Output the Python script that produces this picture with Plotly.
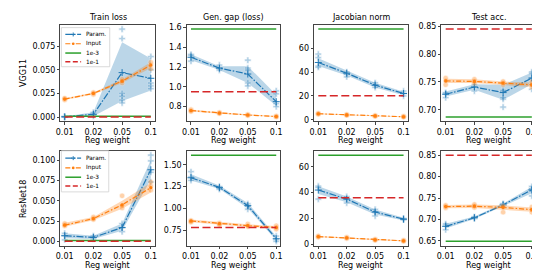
import plotly.graph_objects as go

# ---------------- data ----------------
REG = ["0.01", "0.02", "0.05", "0.1"]
METRICS = ["Train loss", "Gen. gap (loss)", "Jacobian norm", "Test acc."]
MODELS = ["VGG11", "ResNet18"]
SERIES = ["Param.", "Input", "1e-3", "1e-1"]

# VGG11 (metric order: train loss, gen gap, jacobian, test acc)
VGG_PARAM_MEAN = [[0.0003, 0.003, 0.047, 0.041], [1.30, 1.19, 1.13, 0.85], [48, 39, 29, 22], [0.728, 0.741, 0.731, 0.757]]
VGG_PARAM_LO = [[0.0, 0.0008, 0.017, 0.028], [1.27, 1.17, 1.04, 0.81], [45, 37, 27, 20.5], [0.724, 0.736, 0.718, 0.746]]
VGG_PARAM_HI = [[0.0006, 0.005, 0.079, 0.062], [1.33, 1.21, 1.21, 0.92], [51.5, 41, 31, 23.5], [0.733, 0.746, 0.745, 0.767]]
VGG_PARAM_SEEDS = [
    [[0.0002, 0.0003, 0.0004], [0.001, 0.003, 0.005], [0.093, 0.083, 0.025, 0.022, 0.018, 0.015], [0.064, 0.050, 0.036, 0.033, 0.030]],
    [[1.33, 1.32, 1.26], [1.22, 1.19, 1.17], [1.27, 1.19, 1.17, 1.04, 1.01], [0.96, 0.93, 0.83, 0.80]],
    [[55, 52, 45, 44], [40, 38, 36], [31, 29, 27], [24, 22, 20]],
    [[0.722, 0.729, 0.731], [0.734, 0.741, 0.745], [0.705, 0.719, 0.722, 0.735], [0.737, 0.757, 0.765, 0.768]],
]
VGG_INPUT_MEAN = [[0.019, 0.025, 0.038, 0.055], [0.76, 0.735, 0.715, 0.70], [5.0, 4.0, 3.2, 2.5], [0.752, 0.751, 0.748, 0.745]]
VGG_INPUT_LO = [[0.018, 0.024, 0.036, 0.052], [0.75, 0.728, 0.708, 0.694], [4.6, 3.7, 2.9, 2.2], [0.748, 0.748, 0.745, 0.741]]
VGG_INPUT_HI = [[0.020, 0.026, 0.040, 0.058], [0.77, 0.742, 0.722, 0.706], [5.4, 4.3, 3.5, 2.8], [0.756, 0.755, 0.751, 0.749]]
VGG_INPUT_SEEDS = [
    [[0.018, 0.019, 0.020], [0.024, 0.025, 0.026], [0.036, 0.038, 0.040], [0.051, 0.055, 0.058]],
    [[0.77, 0.76, 0.75], [0.74, 0.735, 0.73], [0.72, 0.715, 0.71], [0.705, 0.70, 0.695]],
    [[5.5, 5.0, 4.6], [4.3, 4.0, 3.7], [3.5, 3.2, 2.9], [2.8, 2.5, 2.2]],
    [[0.745, 0.752, 0.757], [0.748, 0.751, 0.755], [0.745, 0.748, 0.751], [0.741, 0.745, 0.750]],
]
VGG_BASE_1E3 = [0.0008, 1.585, 76, 0.687]
VGG_BASE_1E1 = [0.0001, 0.95, 20, 0.845]

# ResNet18
RES_PARAM_MEAN = [[0.007, 0.005, 0.017, 0.088], [1.35, 1.24, 1.03, 0.65], [42, 35, 25, 19.5], [0.684, 0.704, 0.734, 0.769]]
RES_PARAM_LO = [[0.004, 0.003, 0.013, 0.076], [1.32, 1.22, 1.00, 0.63], [39, 32.5, 23, 18.5], [0.679, 0.701, 0.731, 0.761]]
RES_PARAM_HI = [[0.010, 0.007, 0.022, 0.100], [1.39, 1.26, 1.06, 0.68], [45, 37, 27, 20.5], [0.690, 0.707, 0.737, 0.776]]
RES_PARAM_SEEDS = [
    [[0.002, 0.007, 0.010], [0.003, 0.005, 0.007], [0.012, 0.017, 0.022], [0.073, 0.085, 0.099, 0.106]],
    [[1.42, 1.36, 1.32], [1.25, 1.23, 1.22], [1.05, 1.02, 0.99], [0.68, 0.64, 0.62]],
    [[45, 44, 35], [37, 35, 32], [27, 25, 22], [20, 19.5, 19]],
    [[0.676, 0.687, 0.690], [0.702, 0.705, 0.706], [0.731, 0.735, 0.737], [0.755, 0.772, 0.777]],
]
RES_INPUT_MEAN = [[0.020, 0.028, 0.045, 0.066], [0.855, 0.825, 0.80, 0.78], [6.0, 5.0, 3.5, 2.7], [0.730, 0.731, 0.728, 0.723]]
RES_INPUT_LO = [[0.018, 0.026, 0.040, 0.060], [0.84, 0.81, 0.785, 0.765], [5.5, 4.6, 3.1, 2.3], [0.726, 0.727, 0.722, 0.718]]
RES_INPUT_HI = [[0.023, 0.030, 0.050, 0.072], [0.87, 0.84, 0.815, 0.795], [6.5, 5.4, 3.9, 3.1], [0.734, 0.735, 0.733, 0.728]]
RES_INPUT_SEEDS = [
    [[0.019, 0.020, 0.022], [0.027, 0.028, 0.030], [0.041, 0.044, 0.056], [0.063, 0.068, 0.073]],
    [[0.86, 0.85, 0.84], [0.83, 0.82, 0.81], [0.82, 0.80, 0.79], [0.80, 0.78, 0.76]],
    [[6.5, 6.0, 5.5], [5.4, 5.0, 4.6], [3.9, 3.5, 3.1], [3.1, 2.7, 2.3]],
    [[0.727, 0.730, 0.733], [0.728, 0.731, 0.735], [0.717, 0.728, 0.731], [0.717, 0.722, 0.729]],
]
RES_BASE_1E3 = [0.0012, 1.61, 69, 0.649]
RES_BASE_1E1 = [0.0001, 0.78, 36, 0.85]

DTICK = [[0.025, 0.2, 20, 0.05], [0.025, 0.25, 20, 0.05]]
TICKFMT = [[".3f", ".1f", "d", ".2f"], [".3f", ".2f", "d", ".2f"]]

# ---------------- style ----------------
BLUE = "#1f77b4"
ORANGE = "#ff7f0e"
GREEN = "#2ca02c"
RED = "#d62728"
FONT = "DejaVu Sans"
W, H = 540, 270
COLS_PX = [(48, 144), (176, 271), (305, 400), (434, 530)]
ROWS_PX = [(14, 113), (143, 240)]


def px(x):
    return x / W


def py(y):
    return 1 - y / H


DATA = [
    dict(pm=VGG_PARAM_MEAN, pl=VGG_PARAM_LO, ph=VGG_PARAM_HI, ps=VGG_PARAM_SEEDS,
         im=VGG_INPUT_MEAN, il=VGG_INPUT_LO, ih=VGG_INPUT_HI, iseeds=VGG_INPUT_SEEDS,
         g=VGG_BASE_1E3, r=VGG_BASE_1E1),
    dict(pm=RES_PARAM_MEAN, pl=RES_PARAM_LO, ph=RES_PARAM_HI, ps=RES_PARAM_SEEDS,
         im=RES_INPUT_MEAN, il=RES_INPUT_LO, ih=RES_INPUT_HI, iseeds=RES_INPUT_SEEDS,
         g=RES_BASE_1E3, r=RES_BASE_1E1),
]

fig = go.Figure()
layout = {}
annotations = []
shapes = []

for ri, model in enumerate(MODELS):
    d = DATA[ri]
    for ci, metric in enumerate(METRICS):
        k = ri * 4 + ci + 1
        xa = "x" if k == 1 else f"x{k}"
        ya = "y" if k == 1 else f"y{k}"
        vals = []
        for mean, lo, hi, seeds, col, band, seedsym, msym, dash in [
            (d["pm"][ci], d["pl"][ci], d["ph"][ci], d["ps"][ci], BLUE, "rgba(31,119,180,0.3)",
             "cross", "cross-thin", "7px,1.6px,1.6px,1.6px"),
            (d["im"][ci], d["il"][ci], d["ih"][ci], d["iseeds"][ci], ORANGE, "rgba(255,127,14,0.3)",
             "circle", "circle", "5px,2px,1.5px,2px"),
        ]:
            fig.add_trace(go.Scatter(x=REG + REG[::-1], y=hi + lo[::-1], fill="toself",
                                     fillcolor=band, line=dict(width=0), mode="lines",
                                     hoverinfo="skip", showlegend=False, xaxis=xa, yaxis=ya))
            sx, sy = [], []
            for j, s in enumerate(seeds):
                sx += [REG[j]] * len(s)
                sy += s
            fig.add_trace(go.Scatter(x=sx, y=sy, mode="markers", showlegend=False,
                                     marker=dict(symbol=seedsym, size=5.5,
                                                 color=col, opacity=0.35,
                                                 line=dict(width=0.6, color="white")),
                                     xaxis=xa, yaxis=ya))
            mk = dict(symbol=msym, size=5, color=col, line=dict(width=1, color=col)) if msym == "cross-thin" \
                else dict(symbol=msym, size=3.2, color=col, line=dict(width=0))
            fig.add_trace(go.Scatter(x=REG, y=mean, mode="lines+markers", showlegend=False,
                                     line=dict(color=col, width=1.2, dash=dash), marker=mk,
                                     xaxis=xa, yaxis=ya))
            vals += lo + hi + mean + sy
        fig.add_trace(go.Scatter(x=REG, y=[d["g"][ci]] * 4, mode="lines", showlegend=False,
                                 line=dict(color=GREEN, width=1.5), xaxis=xa, yaxis=ya))
        fig.add_trace(go.Scatter(x=REG, y=[d["r"][ci]] * 4, mode="lines", showlegend=False,
                                 line=dict(color=RED, width=1.5, dash="8px,3.5px"), xaxis=xa, yaxis=ya))
        vals += [d["g"][ci], d["r"][ci]]
        lo_v, hi_v = min(vals), max(vals)
        m = 0.05 * (hi_v - lo_v)
        x0, x1 = COLS_PX[ci]
        y0, y1 = ROWS_PX[ri]
        axstyle = dict(showline=True, mirror=True, linecolor="#444", linewidth=0.9,
                       ticks="outside", ticklen=2.5, tickwidth=0.8, tickcolor="#444",
                       tickfont=dict(family=FONT, size=8, color="black"),
                       showgrid=False, zeroline=False)
        layout[("xaxis" if k == 1 else f"xaxis{k}")] = dict(
            domain=[px(x0), px(x1)], anchor=ya, type="category",
            categoryorder="array", categoryarray=REG, range=[-0.15, 3.15], **axstyle)
        layout[("yaxis" if k == 1 else f"yaxis{k}")] = dict(
            domain=[py(y1), py(y0)], anchor=xa, range=[lo_v - m, hi_v + m],
            dtick=DTICK[ri][ci], tick0=0, tickformat=TICKFMT[ri][ci], **axstyle)
        # x axis title
        annotations.append(dict(text="Reg weight", x=px((x0 + x1) / 2), y=py(y1 + 25.5),
                                xref="paper", yref="paper", showarrow=False,
                                xanchor="center", yanchor="bottom", borderpad=0,
                                font=dict(family=FONT, size=8, color="black")))
        if ri == 0:
            annotations.append(dict(text=metric, x=px((x0 + x1) / 2), y=py(y0 - 1),
                                    xref="paper", yref="paper", showarrow=False,
                                    xanchor="center", yanchor="bottom",
                                    font=dict(family=FONT, size=8, color="black")))
    # row label
    y0, y1 = ROWS_PX[ri]
    annotations.append(dict(text=model, x=px(10), y=py((y0 + y1) / 2), xref="paper", yref="paper",
                            showarrow=False, textangle=-90, xanchor="center", yanchor="middle",
                            font=dict(family=FONT, size=8, color="black")))

# ---------------- manual legends (first column) ----------------
LEG_BOX = [(49, 17, 98, 57), (49, 143, 97, 185)]
LEG_ROWS = [[24, 33.5, 43, 52], [150.5, 160.5, 170, 179]]
leg_styles = [
    (BLUE, "7px,1.6px,1.6px,1.6px", "plus"),
    (ORANGE, "5px,2px,1.5px,2px", "dot"),
    (GREEN, "solid", None),
    (RED, "5px,2.5px", None),
]
for ri in range(2):
    bx0, by0, bx1, by1 = LEG_BOX[ri]
    shapes.append(dict(type="rect", xref="paper", yref="paper", x0=px(bx0), x1=px(bx1),
                       y0=py(by1), y1=py(by0), line=dict(color="#d0d0d0", width=0.8),
                       fillcolor="rgba(255,255,255,0.85)", layer="above"))
    for li, name in enumerate(SERIES):
        yy = LEG_ROWS[ri][li]
        col, dash, mk = leg_styles[li]
        shapes.append(dict(type="line", xref="paper", yref="paper", x0=px(53), x1=px(69),
                           y0=py(yy), y1=py(yy), line=dict(color=col, width=1.2 if li < 2 else 1.5,
                                                           dash=dash), layer="above"))
        if mk == "plus":
            shapes.append(dict(type="line", xref="paper", yref="paper", x0=px(59), x1=px(63),
                               y0=py(yy), y1=py(yy), line=dict(color=col, width=1), layer="above"))
            shapes.append(dict(type="line", xref="paper", yref="paper", x0=px(61), x1=px(61),
                               y0=py(yy - 2), y1=py(yy + 2), line=dict(color=col, width=1), layer="above"))
        elif mk == "dot":
            shapes.append(dict(type="circle", xref="paper", yref="paper", x0=px(59.6), x1=px(62.4),
                               y0=py(yy + 1.4), y1=py(yy - 1.4), fillcolor=col,
                               line=dict(width=0), layer="above"))
        annotations.append(dict(text=name, x=px(72), y=py(yy), xref="paper", yref="paper",
                                showarrow=False, xanchor="left", yanchor="middle",
                                font=dict(family=FONT, size=5.8, color="black")))

fig.update_layout(width=W, height=H, margin=dict(l=0, r=0, t=0, b=0), autosize=False,
                  plot_bgcolor="white", paper_bgcolor="white", showlegend=False,
                  annotations=annotations, shapes=shapes, **layout)
fig.write_html("out.html")
